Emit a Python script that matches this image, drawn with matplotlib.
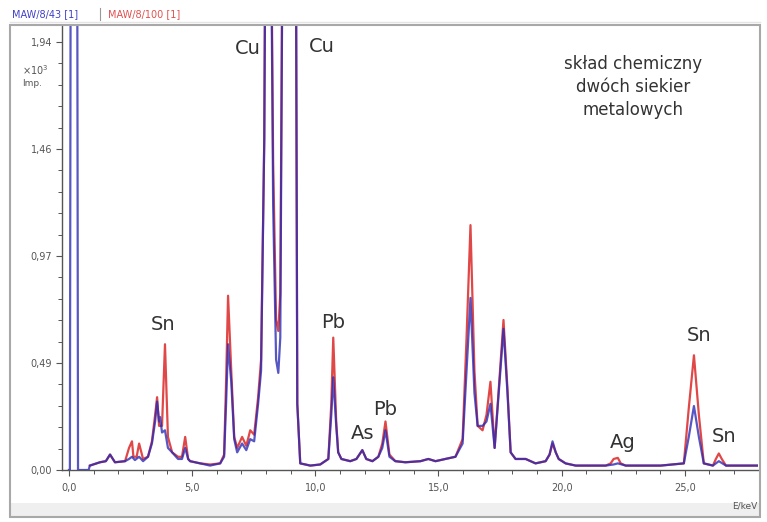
import matplotlib
matplotlib.use("Agg")
import matplotlib.pyplot as plt
from matplotlib.patches import Rectangle
from matplotlib.ticker import FixedLocator, MultipleLocator

# ---- data (energy in keV, counts in 10^3 Imp.) ----
energy_blue = [0.0, 0.04, 0.08, 0.33, 0.37, 0.80, 0.85, 1.26, 1.50, 1.67, 1.87, 2.28, 2.44, 2.56, 2.68,
               2.85, 3.01, 3.21, 3.37, 3.50, 3.58, 3.66, 3.70, 3.78, 3.90, 4.02, 4.19, 4.43, 4.59, 4.72,
               4.84, 4.92, 5.33, 5.73, 6.14, 6.30, 6.38, 6.46, 6.59, 6.71, 6.83, 7.03, 7.20, 7.36, 7.52,
               7.68, 7.80, 7.93, 8.00, 8.17, 8.29, 8.41, 8.50, 8.58, 8.70, 9.20, 9.27, 9.39, 9.80, 10.20,
               10.53, 10.65, 10.73, 10.85, 10.93, 11.06, 11.42, 11.67, 11.91, 12.07, 12.32, 12.56, 12.72,
               12.85, 13.01, 13.25, 13.66, 14.27, 14.59, 14.88, 15.28, 15.69, 15.98, 16.14, 16.30, 16.46,
               16.59, 16.79, 16.95, 17.11, 17.28, 17.48, 17.64, 17.80, 17.93, 18.13, 18.54, 18.94, 19.35,
               19.51, 19.63, 19.76, 19.88, 20.16, 20.57, 21.18, 21.79, 22.11, 22.28, 22.60, 23.21, 24.02,
               24.96, 25.16, 25.37, 25.57, 25.77, 26.14, 26.38, 26.67, 27.28, 27.97]
counts_blue = [0.0, 0.0, 3.0, 3.0, 0.0, 0.0, 0.02, 0.035, 0.04, 0.07, 0.035, 0.04, 0.05, 0.06, 0.045,
               0.06, 0.04, 0.06, 0.12, 0.22, 0.31, 0.22, 0.24, 0.17, 0.18, 0.10, 0.08, 0.05, 0.05, 0.10,
               0.05, 0.04, 0.03, 0.02, 0.03, 0.06, 0.30, 0.57, 0.40, 0.14, 0.08, 0.12, 0.09, 0.14, 0.13,
               0.30, 0.45, 1.5, 3.0, 3.0, 1.2, 0.50, 0.44, 0.60, 3.0, 3.0, 0.30, 0.03, 0.02, 0.025,
               0.05, 0.25, 0.42, 0.20, 0.08, 0.05, 0.04, 0.05, 0.09, 0.05, 0.04, 0.06, 0.10,
               0.18, 0.06, 0.04, 0.035, 0.04, 0.05, 0.04, 0.05, 0.06, 0.12, 0.45, 0.78, 0.35,
               0.20, 0.20, 0.22, 0.30, 0.10, 0.40, 0.64, 0.35, 0.08, 0.05, 0.05, 0.03, 0.04,
               0.07, 0.13, 0.08, 0.05, 0.03, 0.02, 0.02, 0.02, 0.025, 0.03, 0.02, 0.02, 0.02,
               0.03, 0.15, 0.29, 0.15, 0.03, 0.02, 0.04, 0.02, 0.02, 0.02]

energy_red = [0.85, 1.26, 1.50, 1.67, 1.87, 2.28, 2.44, 2.56, 2.62, 2.75, 2.85, 3.01, 3.21, 3.37, 3.50,
              3.58, 3.66, 3.78, 3.90, 4.02, 4.19, 4.43, 4.59, 4.72, 4.84, 4.92, 5.33, 5.73, 6.14, 6.30,
              6.38, 6.46, 6.59, 6.71, 6.83, 7.03, 7.20, 7.36, 7.52, 7.68, 7.80, 7.93, 8.00, 8.17, 8.29,
              8.41, 8.50, 8.58, 8.70, 9.20, 9.27, 9.39, 9.80, 10.20, 10.53, 10.65, 10.73, 10.85, 10.93,
              11.06, 11.42, 11.67, 11.91, 12.07, 12.32, 12.56, 12.72, 12.85, 13.01, 13.25, 13.66, 14.27,
              14.59, 14.88, 15.28, 15.69, 15.98, 16.14, 16.30, 16.46, 16.59, 16.79, 16.95, 17.11, 17.28,
              17.48, 17.64, 17.80, 17.93, 18.13, 18.54, 18.94, 19.35, 19.51, 19.63, 19.76, 19.88, 20.16,
              20.57, 21.18, 21.79, 21.99, 22.11, 22.28, 22.40, 22.60, 23.21, 24.02, 24.96, 25.16, 25.37,
              25.57, 25.77, 26.14, 26.26, 26.38, 26.50, 26.67, 27.28, 27.97]
counts_red = [0.02, 0.035, 0.04, 0.07, 0.035, 0.04, 0.10, 0.13, 0.06, 0.06, 0.12, 0.05, 0.06, 0.13, 0.25,
              0.33, 0.20, 0.20, 0.57, 0.15, 0.08, 0.06, 0.06, 0.15, 0.05, 0.04, 0.03, 0.025, 0.03, 0.07,
              0.40, 0.79, 0.45, 0.15, 0.10, 0.15, 0.11, 0.18, 0.16, 0.33, 0.50, 1.5, 3.0, 3.0, 1.4,
              0.68, 0.63, 0.80, 3.0, 3.0, 0.30, 0.03, 0.02, 0.025, 0.05, 0.30, 0.60, 0.22, 0.08,
              0.05, 0.04, 0.05, 0.09, 0.05, 0.04, 0.06, 0.12, 0.22, 0.07, 0.04, 0.035, 0.04,
              0.05, 0.04, 0.05, 0.06, 0.14, 0.60, 1.11, 0.45, 0.20, 0.18, 0.25, 0.40, 0.10,
              0.42, 0.68, 0.37, 0.08, 0.05, 0.05, 0.03, 0.04, 0.07, 0.12, 0.08, 0.05, 0.03,
              0.02, 0.02, 0.02, 0.03, 0.05, 0.055, 0.03, 0.02, 0.02, 0.02, 0.03, 0.28, 0.52,
              0.25, 0.03, 0.02, 0.05, 0.075, 0.05, 0.02, 0.02, 0.02]

y_ticks = [0.0, 0.485, 0.97, 1.455, 1.94]
y_tick_labels = ["0,00", "0,49", "0,97", "1,46", "1,94"]
x_ticks = [0, 5, 10, 15, 20, 25]
x_tick_labels = ["0,0", "5,0", "10,0", "15,0", "20,0", "25,0"]

peak_labels = ["Cu", "Cu", "Sn", "Pb", "As", "Pb", "Ag", "Sn", "Sn"]
peak_label_x = [7.28, 10.25, 3.82, 10.73, 11.91, 12.85, 22.48, 25.57, 26.59]
peak_label_y = [1.91, 1.92, 0.66, 0.67, 0.165, 0.275, 0.126, 0.61, 0.15]

series_names = ["MAW/8/43 [1]", "MAW/8/100 [1]"]
note = "skład chemiczny\ndwóch siekier\nmetalowych"

# ---- figure ----
W, H = 767, 522
fig = plt.figure(figsize=(W / 100, H / 100), dpi=100)
fig.patch.set_facecolor("white")

band = Rectangle((10 / W, (H - 517) / H), (760 - 10) / W, 14 / H, transform=fig.transFigure,
                 facecolor="#efefef", edgecolor="none", zorder=0)
fig.add_artist(band)
frame = Rectangle((10 / W, (H - 517) / H), (760 - 10) / W, (517 - 25) / H, transform=fig.transFigure,
                  facecolor="none", edgecolor="#a8a8a8", lw=1.5, zorder=5)
fig.add_artist(frame)

left, right, top, bottom = 62, 758, 25, 470
ax = fig.add_axes([left / W, (H - bottom) / H, (right - left) / W, (bottom - top) / H])
ax.set_facecolor("white")

red_c = "#e04848"
blue_c = "#2828b4"
ax.plot(energy_red, counts_red, color=red_c, lw=1.6, solid_joinstyle="round", zorder=2)
ax.plot(energy_blue, counts_blue, color=blue_c, lw=1.6, alpha=0.78, solid_joinstyle="round", zorder=3)

ax.set_xlim(-0.28, 27.97)
ax.set_ylim(0, 2.017)

for s in ["top", "right"]:
    ax.spines[s].set_visible(False)
for s in ["left", "bottom"]:
    ax.spines[s].set_color("#555555")
    ax.spines[s].set_linewidth(1.0)

ax.yaxis.set_major_locator(FixedLocator(y_ticks))
ax.set_yticklabels(y_tick_labels)
ax.yaxis.set_minor_locator(MultipleLocator(0.097))
ax.xaxis.set_major_locator(FixedLocator(x_ticks))
ax.set_xticklabels(x_tick_labels)
ax.xaxis.set_minor_locator(MultipleLocator(1))
ax.tick_params(axis="both", which="major", direction="out", length=4, width=0.8, colors="#555555",
               labelsize=7, labelcolor="#555555")
ax.tick_params(axis="both", which="minor", direction="out", length=3, width=0.7, colors="#555555")
ax.tick_params(axis="x", pad=5)
ax.tick_params(axis="y", pad=3)

for lab, xx, yy in zip(peak_labels, peak_label_x, peak_label_y):
    ax.text(xx, yy, lab, fontsize=14, color="#333333", ha="center", va="center", zorder=6)

ax.text(0.82, 0.86, note, transform=ax.transAxes, fontsize=12, color="#333333",
        ha="center", va="center", linespacing=1.35, zorder=6)

fig.text(22 / W, 1 - 70 / H, "×10$^3$", fontsize=7, color="#555555", ha="left", va="center")
fig.text(22 / W, 1 - 84 / H, "Imp.", fontsize=6.5, color="#555555", ha="left", va="center")
fig.text(745 / W, 1 - 506 / H, "E/keV", fontsize=6.5, color="#555555", ha="center", va="center")

fig.text(12 / W, 1 - 14 / H, series_names[0], fontsize=7, color="#4040c8", ha="left", va="center")
fig.text(108 / W, 1 - 14 / H, series_names[1], fontsize=7, color="#e05050", ha="left", va="center")
fig.add_artist(plt.Line2D([100 / W, 100 / W], [1 - 8 / H, 1 - 20 / H], color="#999999", lw=0.8,
                          transform=fig.transFigure))
fig.add_artist(plt.Line2D([10 / W, 760 / W], [1 - 22 / H, 1 - 22 / H], color="#e4e4e4", lw=1.0,
                          transform=fig.transFigure))

fig.savefig("out.png", dpi=100, facecolor="white")
